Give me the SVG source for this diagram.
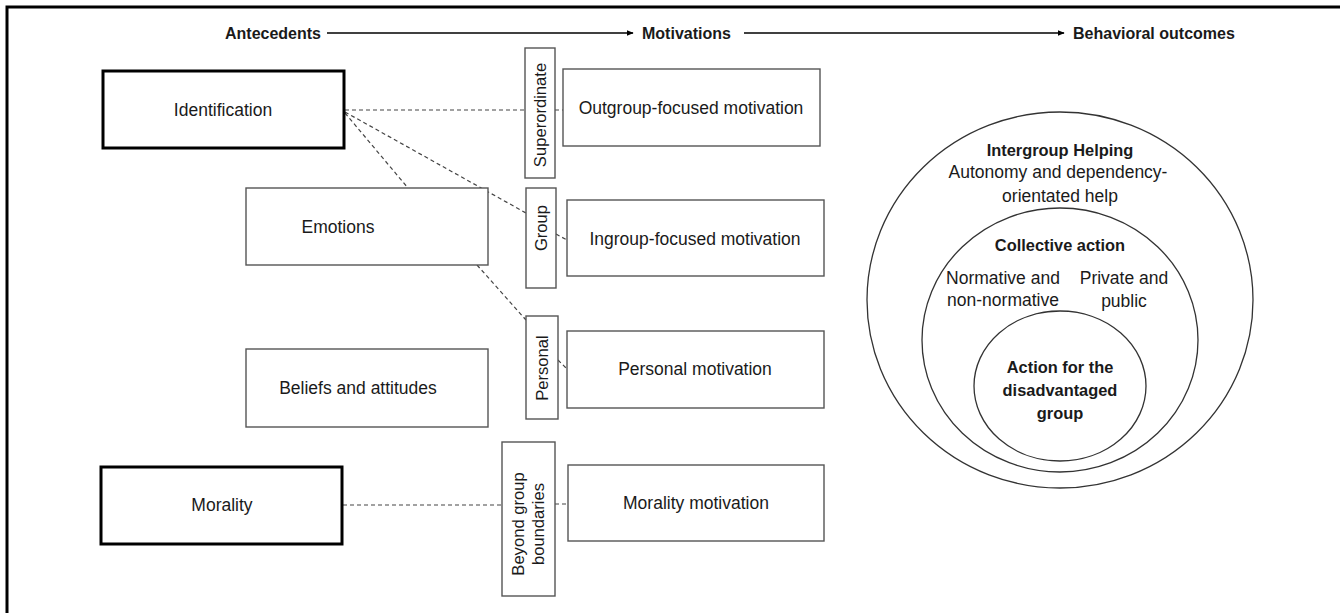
<svg xmlns="http://www.w3.org/2000/svg" width="1340" height="613" viewBox="0 0 1340 613">
<style>
text{font-family:"Liberation Sans",Arial,sans-serif;font-size:17.5px;fill:#1a1a1a}
.h{font-weight:bold;font-size:16px}
.b{font-weight:bold;font-size:16.4px}
.c{text-anchor:middle}
.v{font-size:16.6px}
.thin{fill:#fff;stroke:#555;stroke-width:1.4}
.thick{fill:#fff;stroke:#000;stroke-width:3}
.dash{stroke:#444;stroke-width:1.2;stroke-dasharray:4 3;fill:none}
.ring{fill:none;stroke:#333;stroke-width:1.3}
.arr{stroke:#000;stroke-width:1.5;fill:none}
</style>
<defs>
<marker id="ah" viewBox="0 0 10 10" refX="9" refY="5" markerWidth="7" markerHeight="7" orient="auto" markerUnits="userSpaceOnUse"><path d="M0,1 L10,5 L0,9 Z" fill="#000"/></marker>
</defs>
<rect width="1340" height="613" fill="#fff"/>
<path d="M7,613 V7 H1340" fill="none" stroke="#000" stroke-width="3"/>

<g id="header">
<text class="h" x="321" y="39" text-anchor="end">Antecedents</text>
<line class="arr" x1="327" y1="33" x2="633" y2="33" marker-end="url(#ah)"/>
<text class="h" x="642" y="39">Motivations</text>
<line class="arr" x1="744" y1="33" x2="1064" y2="33" marker-end="url(#ah)"/>
<text class="h" x="1073" y="39">Behavioral outcomes</text>
</g>

<g id="connectors">
<line class="dash" x1="345" y1="110" x2="525" y2="110"/>
<line class="dash" x1="555" y1="110" x2="563" y2="110"/>
<line class="dash" x1="345" y1="112" x2="526" y2="213"/>
<line class="dash" x1="556" y1="234" x2="567" y2="240"/>
<line class="dash" x1="345" y1="113" x2="408" y2="188"/>
<line class="dash" x1="477" y1="265" x2="526" y2="320"/>
<line class="dash" x1="558" y1="360" x2="567" y2="369"/>
<line class="dash" x1="343" y1="505" x2="502" y2="505"/>
<line class="dash" x1="555" y1="504" x2="568" y2="504"/>
</g>

<g id="identification"><rect class="thick" x="103" y="71" width="241" height="77"/><text class="c" x="223" y="116">Identification</text></g>
<g id="emotions"><rect class="thin" x="246" y="188" width="242" height="77"/><text class="c" x="338" y="233">Emotions</text></g>
<g id="beliefs"><rect class="thin" x="246" y="349" width="242" height="78"/><text class="c" x="358" y="394">Beliefs and attitudes</text></g>
<g id="morality"><rect class="thick" x="101" y="467" width="241" height="77"/><text class="c" x="222" y="511">Morality</text></g>

<g id="superordinate"><rect class="thin" x="525" y="48" width="30" height="130"/><text class="c v" transform="translate(546,115) rotate(-90)">Superordinate</text></g>
<g id="group"><rect class="thin" x="526" y="188" width="30" height="100"/><text class="c v" transform="translate(547,228) rotate(-90)">Group</text></g>
<g id="personal"><rect class="thin" x="526" y="316" width="32" height="103"/><text class="c v" transform="translate(548,368) rotate(-90)">Personal</text></g>
<g id="beyond"><rect class="thin" x="502" y="442" width="53" height="154"/><text class="c v" transform="translate(524,524) rotate(-90)">Beyond group</text><text class="c v" transform="translate(544,524) rotate(-90)">boundaries</text></g>

<g id="outgroup"><rect class="thin" x="563" y="69" width="257" height="77"/><text class="c" x="691" y="114">Outgroup-focused motivation</text></g>
<g id="ingroup"><rect class="thin" x="567" y="200" width="257" height="76"/><text class="c" x="695" y="245">Ingroup-focused motivation</text></g>
<g id="personalmot"><rect class="thin" x="567" y="331" width="257" height="77"/><text class="c" x="695" y="375">Personal motivation</text></g>
<g id="moralitymot"><rect class="thin" x="568" y="465" width="256" height="76"/><text class="c" x="696" y="509">Morality motivation</text></g>

<g id="intergroup"><ellipse class="ring" cx="1060" cy="300" rx="193" ry="188"/>
<text class="c b" x="1060" y="156">Intergroup Helping</text>
<text class="c" x="1058" y="178">Autonomy and dependency-</text>
<text class="c" x="1060" y="202">orientated help</text></g>
<g id="collective"><ellipse class="ring" cx="1060" cy="340" rx="138" ry="132"/>
<text class="c b" x="1060" y="251">Collective action</text>
<text class="c" x="1003" y="284">Normative and</text>
<text class="c" x="1003" y="306">non-normative</text>
<text class="c" x="1124" y="284">Private and</text>
<text class="c" x="1124" y="307">public</text></g>
<g id="disadvantaged"><ellipse class="ring" cx="1060" cy="386" rx="86" ry="75"/>
<text class="c b" x="1060" y="373">Action for the</text>
<text class="c b" x="1060" y="396">disadvantaged</text>
<text class="c b" x="1060" y="419">group</text></g>
</svg>
